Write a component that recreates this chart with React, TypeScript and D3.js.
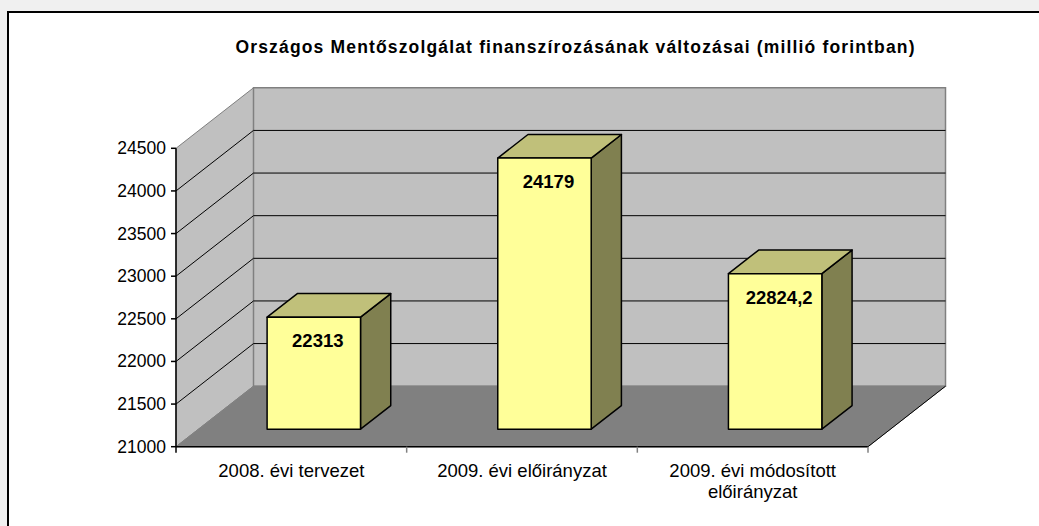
import * as d3 from "d3";

const categories = [
  ["2008. évi tervezet"],
  ["2009. évi előirányzat"],
  ["2009. évi módosított", "előirányzat"],
];
const values = [22313, 24179, 22824.2];
const valueLabels = ["22313", "24179", "22824,2"];
const yTicks = [21000, 21500, 22000, 22500, 23000, 23500, 24000, 24500];
const title = "Országos Mentőszolgálat finanszírozásának változásai (millió forintban)";

const W = 1039;
const H = 526;
const FONT = "'Liberation Sans', Arial, sans-serif";

// plot box (front plane) and oblique depth vector
const X0 = 176;
const X1 = 868;
const DX = 77.5;
const DY = -60.5;
const Z_FRONT = 0.29;
const Z_BACK = 0.68;

export default function App() {
  const y = d3.scaleLinear().domain([21000, 24500]).range([446.7, 148.3]);
  const x = d3
    .scaleBand<number>()
    .domain(d3.range(categories.length))
    .range([0, X1 - X0])
    .padding(0);
  const barW = x.bandwidth() * 0.405;

  const P = (px: number, v: number, z: number): [number, number] => [
    X0 + px + z * DX,
    y(v) + z * DY,
  ];
  const pts = (arr: [number, number][]) => arr.map((p) => p.join(",")).join(" ");

  const yMin = 21000;
  const yMax = 24500;
  const wallLeft = pts([P(0, yMax, 0), P(0, yMax, 1), P(0, yMin, 1), P(0, yMin, 0)]);
  const wallBack = pts([P(0, yMax, 1), P(X1 - X0, yMax, 1), P(X1 - X0, yMin, 1), P(0, yMin, 1)]);
  const floor = pts([P(0, yMin, 0), P(X1 - X0, yMin, 0), P(X1 - X0, yMin, 1), P(0, yMin, 1)]);

  const inner = yTicks.filter((t) => t !== yMin && t !== yMax);

  return (
    <div style={{ position: "fixed", left: 0, top: 0 }}>
      <svg width={W} height={H} style={{ display: "block" }}>
        <rect x={0} y={0} width={W} height={H} fill="#f0f0f0" />
        <rect x={8} y={12} width={W + 10} height={H + 10} fill="#ffffff" stroke="#000" strokeWidth={2} />

        <text
          x={575}
          y={53}
          textAnchor="middle"
          fontFamily={FONT}
          fontWeight="bold"
          fontSize={17.5}
          textLength={679}
          lengthAdjust="spacing"
          fill="#000"
        >
          {title}
        </text>

        {/* walls and floor */}
        <polygon points={wallLeft} fill="#c0c0c0" stroke="#808080" strokeWidth={1} />
        <polygon points={wallBack} fill="#c0c0c0" stroke="#808080" strokeWidth={1.5} />
        <polygon points={floor} fill="#808080" stroke="#808080" strokeWidth={1} />

        {/* gridlines */}
        {inner.map((t) => {
          const a = P(0, t, 0);
          const b = P(0, t, 1);
          const c = P(X1 - X0, t, 1);
          return (
            <g key={t}>
              <line x1={a[0]} y1={a[1]} x2={b[0]} y2={b[1]} stroke="#000" strokeWidth={1} />
              <line x1={b[0]} y1={b[1]} x2={c[0]} y2={c[1]} stroke="#000" strokeWidth={1} />
            </g>
          );
        })}

        {/* floor edges */}
        <line x1={X0} y1={y(yMin)} x2={X1} y2={y(yMin)} stroke="#000" strokeWidth={1.5} />
        {(() => {
          const a = P(X1 - X0, yMin, 0);
          const b = P(X1 - X0, yMin, 1);
          return <line x1={a[0]} y1={a[1]} x2={b[0]} y2={b[1]} stroke="#000" strokeWidth={1} />;
        })()}

        {/* y axis */}
        <line x1={X0} y1={y(yMax)} x2={X0} y2={y(yMin)} stroke="#000" strokeWidth={1.5} />
        {yTicks.map((t) => (
          <g key={t}>
            <line x1={X0 - 5} y1={y(t)} x2={X0} y2={y(t)} stroke="#000" strokeWidth={1.5} />
            <text x={X0 - 10} y={y(t) + 6} textAnchor="end" fontFamily={FONT} fontSize={17.5} fill="#000">
              {t}
            </text>
          </g>
        ))}

        {/* category ticks */}
        {d3.range(categories.length + 1).map((i) => {
          const px = X0 + i * x.step();
          return (
            <line key={i} x1={px} y1={y(yMin)} x2={px} y2={y(yMin) + 6} stroke={i === 0 ? "#000" : "#808080"} strokeWidth={1.5} />
          );
        })}

        {/* bars */}
        {values.map((v, i) => {
          const l = (x(i) ?? 0) + (x.bandwidth() - barW) / 2;
          const r = l + barW;
          const side = pts([P(r, yMin, Z_FRONT), P(r, v, Z_FRONT), P(r, v, Z_BACK), P(r, yMin, Z_BACK)]);
          const top = pts([P(l, v, Z_FRONT), P(r, v, Z_FRONT), P(r, v, Z_BACK), P(l, v, Z_BACK)]);
          const front = pts([P(l, yMin, Z_FRONT), P(l, v, Z_FRONT), P(r, v, Z_FRONT), P(r, yMin, Z_FRONT)]);
          const ft = P(l + barW / 2, v, Z_FRONT);
          return (
            <g key={i} stroke="#000" strokeWidth={1.5} strokeLinejoin="round">
              <polygon points={side} fill="#808050" />
              <polygon points={top} fill="#c0c07a" />
              <polygon points={front} fill="#ffff99" />
              <text
                x={ft[0] + 4}
                y={ft[1] + 30}
                textAnchor="middle"
                fontFamily={FONT}
                fontWeight="bold"
                fontSize={18.5}
                fill="#000"
                stroke="none"
              >
                {valueLabels[i]}
              </text>
            </g>
          );
        })}

        {/* category labels */}
        {categories.map((lines, i) => (
          <text
            key={i}
            x={X0 + (x(i) ?? 0) + x.bandwidth() / 2}
            y={477}
            textAnchor="middle"
            fontFamily={FONT}
            fontSize={18.5}
            fill="#000"
          >
            {lines.map((ln, j) => (
              <tspan key={j} x={X0 + (x(i) ?? 0) + x.bandwidth() / 2} dy={j === 0 ? 0 : 21}>
                {ln}
              </tspan>
            ))}
          </text>
        ))}
      </svg>
    </div>
  );
}
